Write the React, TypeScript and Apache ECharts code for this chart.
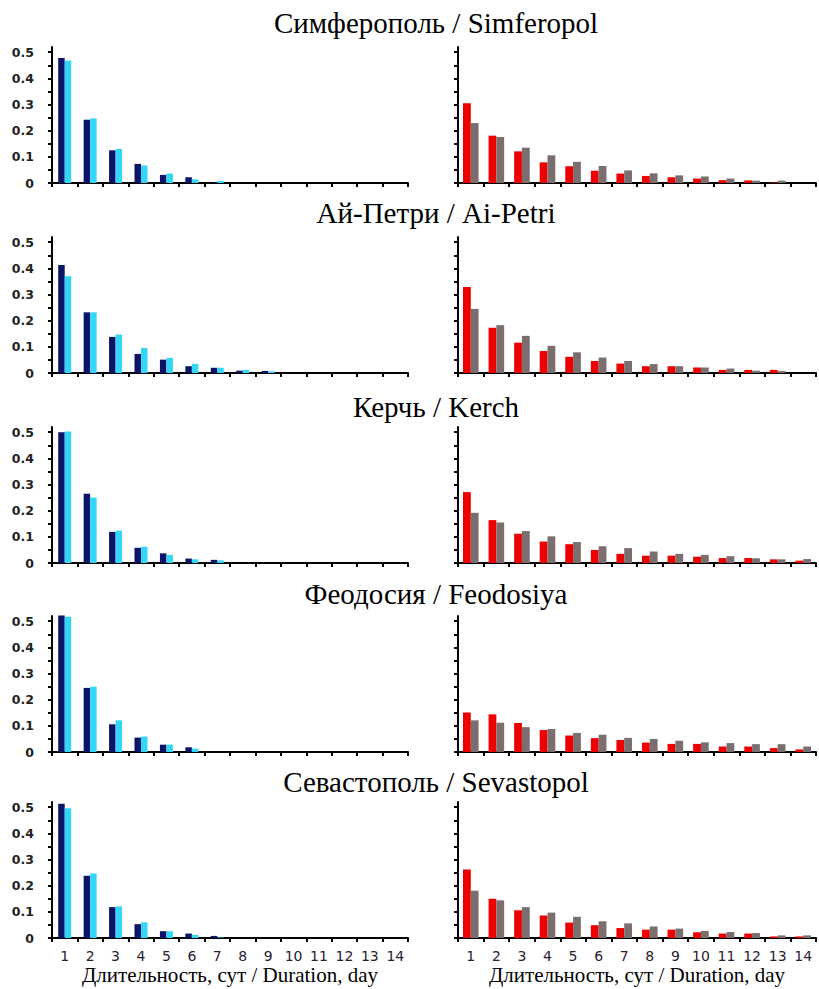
import React, { useEffect, useRef } from 'react';
import * as echarts from 'echarts';

const days = ['1', '2', '3', '4', '5', '6', '7', '8', '9', '10', '11', '12', '13', '14'];
const titles = [
  'Симферополь / Simferopol',
  'Ай-Петри / Ai-Petri',
  'Керчь / Kerch',
  'Феодосия / Feodosiya',
  'Севастополь / Sevastopol',
];
const axisName = 'Длительность, сут / Duration, day';
const yTickValues = [0, 0.05, 0.1, 0.15, 0.2, 0.25, 0.3, 0.35, 0.4, 0.45, 0.5];
const yLabelValues = [0, 0.1, 0.2, 0.3, 0.4, 0.5];

// Left column (navy / cyan)
const simferopolNavy = [0.478, 0.242, 0.125, 0.073, 0.031, 0.022, 0.003, 0, 0, 0, 0, 0, 0, 0];
const simferopolCyan = [0.468, 0.247, 0.13, 0.067, 0.036, 0.014, 0.008, 0, 0, 0, 0, 0, 0, 0];
const aiPetriNavy = [0.413, 0.232, 0.138, 0.073, 0.051, 0.026, 0.02, 0.009, 0.008, 0, 0, 0, 0, 0];
const aiPetriCyan = [0.37, 0.232, 0.147, 0.096, 0.058, 0.035, 0.02, 0.012, 0.006, 0, 0, 0, 0, 0];
const kerchNavy = [0.5, 0.265, 0.119, 0.058, 0.037, 0.017, 0.012, 0, 0, 0, 0, 0, 0, 0];
const kerchCyan = [0.503, 0.25, 0.124, 0.062, 0.031, 0.014, 0.01, 0, 0, 0, 0, 0, 0, 0];
const feodosiyaNavy = [0.522, 0.245, 0.106, 0.055, 0.028, 0.018, 0, 0, 0, 0, 0, 0, 0, 0];
const feodosiyaCyan = [0.517, 0.25, 0.121, 0.059, 0.028, 0.013, 0, 0, 0, 0, 0, 0, 0, 0];
const sevastopolNavy = [0.513, 0.238, 0.118, 0.053, 0.026, 0.017, 0.008, 0, 0, 0, 0, 0, 0, 0];
const sevastopolCyan = [0.496, 0.247, 0.121, 0.06, 0.026, 0.012, 0.002, 0, 0, 0, 0, 0, 0, 0];

// Right column (red / gray)
const simferopolRed = [0.305, 0.181, 0.121, 0.079, 0.064, 0.047, 0.036, 0.027, 0.022, 0.017, 0.011, 0.01, 0.002, 0];
const simferopolGray = [0.229, 0.176, 0.135, 0.106, 0.081, 0.065, 0.048, 0.037, 0.029, 0.025, 0.017, 0.009, 0.009, 0];
const aiPetriRed = [0.329, 0.173, 0.116, 0.084, 0.062, 0.046, 0.036, 0.026, 0.026, 0.021, 0.012, 0.012, 0.012, 0];
const aiPetriGray = [0.245, 0.183, 0.142, 0.104, 0.079, 0.059, 0.046, 0.034, 0.026, 0.021, 0.017, 0.009, 0.008, 0];
const kerchRed = [0.271, 0.164, 0.112, 0.082, 0.072, 0.05, 0.035, 0.028, 0.028, 0.024, 0.019, 0.019, 0.014, 0.009];
const kerchGray = [0.192, 0.155, 0.122, 0.102, 0.08, 0.064, 0.057, 0.044, 0.035, 0.031, 0.026, 0.018, 0.014, 0.015];
const feodosiyaRed = [0.151, 0.144, 0.111, 0.084, 0.063, 0.053, 0.046, 0.036, 0.031, 0.031, 0.021, 0.021, 0.015, 0.01];
const feodosiyaGray = [0.121, 0.112, 0.095, 0.088, 0.073, 0.066, 0.054, 0.05, 0.043, 0.037, 0.034, 0.03, 0.03, 0.021];
const sevastopolRed = [0.262, 0.15, 0.106, 0.086, 0.059, 0.049, 0.038, 0.032, 0.032, 0.022, 0.017, 0.017, 0.006, 0.006];
const sevastopolGray = [0.181, 0.144, 0.118, 0.097, 0.081, 0.064, 0.056, 0.044, 0.036, 0.027, 0.023, 0.019, 0.01, 0.01];

const leftA = [simferopolNavy, aiPetriNavy, kerchNavy, feodosiyaNavy, sevastopolNavy];
const leftB = [simferopolCyan, aiPetriCyan, kerchCyan, feodosiyaCyan, sevastopolCyan];
const rightA = [simferopolRed, aiPetriRed, kerchRed, feodosiyaRed, sevastopolRed];
const rightB = [simferopolGray, aiPetriGray, kerchGray, feodosiyaGray, sevastopolGray];

const rowZero = [183, 373, 563, 752, 938];
const titleY = [23, 213, 407, 594, 782];
const GRID_H = 136;
const Y_MAX = 0.52;

export default function App() {
  const ref = useRef<HTMLDivElement>(null);
  useEffect(() => {
    if (!ref.current) return;
    const chart = echarts.init(ref.current, undefined, { renderer: 'svg' });
    const grids: any[] = [];
    const xAxes: any[] = [];
    const yAxes: any[] = [];
    const series: any[] = [];
    const graphic: any[] = [];
    const axisLine = { show: true, lineStyle: { color: '#000', width: 2 } };
    for (let r = 0; r < 5; r++) {
      const last = r === 4;
      for (let c = 0; c < 2; c++) {
        const idx = r * 2 + c;
        grids.push({
          left: c === 0 ? 52 : 458,
          width: c === 0 ? 356 : 358,
          top: rowZero[r] - GRID_H,
          height: GRID_H,
          containLabel: false,
          outerBoundsMode: 'none',
        });
        xAxes.push({
          type: 'category',
          gridIndex: idx,
          data: days,
          axisLine,
          axisTick: { show: true, length: 4, lineStyle: { color: '#000', width: 2 } },
          axisLabel: {
            show: last,
            color: '#2a2030',
            fontFamily: 'DejaVu Sans',
            fontSize: 14,
            margin: 11,
          },
          splitLine: { show: false },
          name: last ? axisName : '',
          nameLocation: 'middle',
          nameGap: 26,
          nameTextStyle: { fontFamily: 'Liberation Serif', fontSize: 21, color: '#000' },
        });
        yAxes.push({
          type: 'value',
          gridIndex: idx,
          min: 0,
          max: Y_MAX,
          axisLine,
          axisTick: {
            show: true,
            length: 4,
            customValues: yTickValues,
            lineStyle: { color: '#000', width: 2 },
          },
          axisLabel: {
            show: c === 0,
            customValues: yLabelValues,
            formatter: (v: number) => (v === 0 ? '0' : v.toFixed(1)),
            color: '#222',
            fontFamily: 'DejaVu Sans',
            fontWeight: 'bold',
            fontSize: 12.5,
            margin: 18,
          },
          splitLine: { show: false },
        });
        const a = c === 0 ? leftA[r] : rightA[r];
        const b = c === 0 ? leftB[r] : rightB[r];
        const bw = c === 0 ? 6.5 : 7.8;
        series.push({
          type: 'bar',
          xAxisIndex: idx,
          yAxisIndex: idx,
          data: a,
          barWidth: bw,
          barGap: '0%',
          clip: false,
          itemStyle: { color: c === 0 ? '#0b1466' : '#ee0000' },
        });
        series.push({
          type: 'bar',
          xAxisIndex: idx,
          yAxisIndex: idx,
          data: b,
          barWidth: bw,
          barGap: '0%',
          clip: false,
          itemStyle: { color: c === 0 ? '#33d6f6' : '#7a6e6e' },
        });
      }
      graphic.push({
        type: 'text',
        x: 436,
        y: titleY[r],
        style: {
          text: titles[r],
          font: '29px "Liberation Serif"',
          fill: '#000',
          textAlign: 'center',
          textVerticalAlign: 'middle',
        },
      });
    }
    chart.setOption({
      animation: false,
      backgroundColor: '#fff',
      grid: grids,
      xAxis: xAxes,
      yAxis: yAxes,
      series,
      graphic,
    });
    return () => chart.dispose();
  }, []);
  return (
    <div
      ref={ref}
      style={{ position: 'fixed', left: 0, top: 0, width: 819, height: 989, background: '#fff' }}
    />
  );
}
